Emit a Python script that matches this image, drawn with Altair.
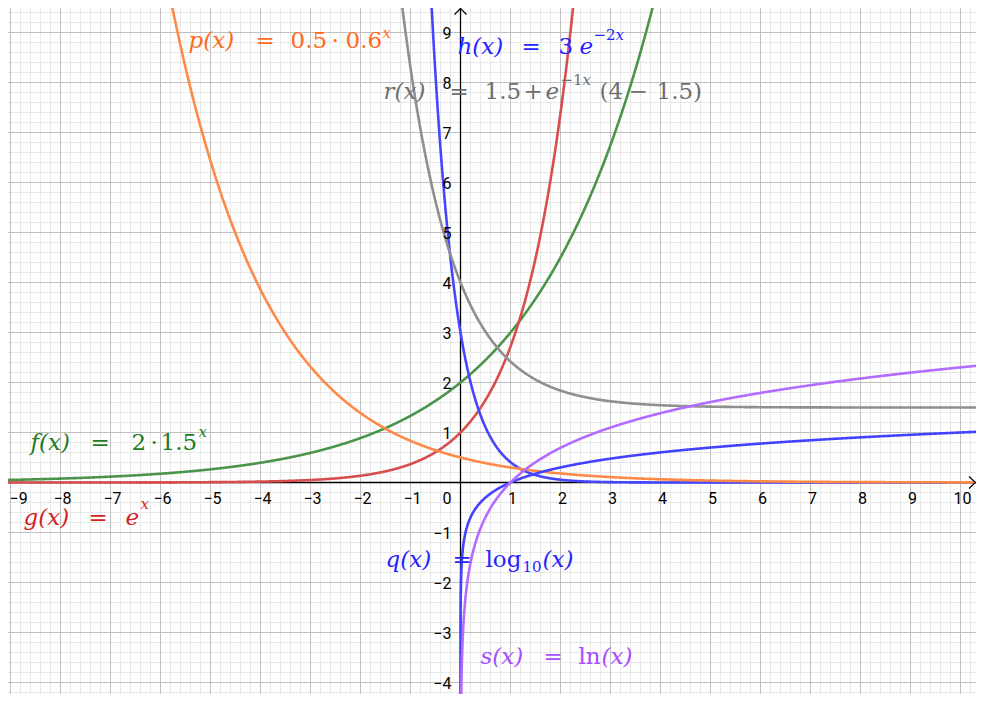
import altair as alt
import numpy as np
import pandas as pd

# ---------------- view window (data units) ----------------
X_MIN, X_MAX = -9.05, 10.31
Y_MIN, Y_MAX = -4.23, 9.49
W, H = 968, 686

# ---------------- functions shown ----------------
NAMES = ["f", "g", "h", "p", "q", "r", "s"]
CURVE_COLORS = ["#4a954a", "#d94d4d", "#4646ff", "#ff8a47", "#4343ff", "#8f8f8f", "#b36cff"]
LABEL_COLORS = {"f": "#1e7b1e", "g": "#d41f1f", "h": "#2424ff", "p": "#ff6a1a",
                "q": "#2424ff", "r": "#6e6e6e", "s": "#a64dff"}

F_COEF, F_BASE = 2.0, 1.5          # f(x) = 2 * 1.5^x
G_BASE = np.e                       # g(x) = e^x
H_COEF, H_RATE = 3.0, -2.0          # h(x) = 3 e^(-2x)
P_COEF, P_BASE = 0.5, 0.6           # p(x) = 0.5 * 0.6^x
R_OFFSET, R_RATE, R_START = 1.5, -1.0, 4.0   # r(x) = 1.5 + e^(-x)(4 - 1.5)
Q_BASE, S_BASE = 10.0, np.e         # q = log10, s = ln

# ---------------- axis tick labels ----------------
X_TICKS = [-9, -8, -7, -6, -5, -4, -3, -2, -1, 1, 2, 3, 4, 5, 6, 7, 8, 9, 10]
Y_TICKS = [-4, -3, -2, -1, 1, 2, 3, 4, 5, 6, 7, 8, 9]

# ---------------- label pieces: (function, text, x, y, size, italic) ----------------
M, S = 23, 15
LABELS = [
    ("p", "p(x)", -5.44, 8.70, M, True), ("p", "=", -4.10, 8.70, M, False),
    ("p", "0.5", -3.40, 8.70, M, False), ("p", "·", -2.58, 8.70, M, False),
    ("p", "0.6", -2.30, 8.70, M, False), ("p", "x", -1.56, 8.90, S, True),

    ("h", "h(x)", -0.06, 8.58, M, True), ("h", "=", 1.22, 8.58, M, False),
    ("h", "3", 1.96, 8.58, M, False), ("h", "e", 2.38, 8.58, M, True),
    ("h", "−2", 2.66, 8.86, S, False), ("h", "x", 3.10, 8.86, S, True),

    ("r", "r(x)", -1.54, 7.68, M, True), ("r", "=", -0.22, 7.68, M, False),
    ("r", "1.5", 0.48, 7.68, M, False), ("r", "+", 1.26, 7.68, M, False),
    ("r", "e", 1.70, 7.68, M, True), ("r", "−1", 2.00, 7.96, S, False),
    ("r", "x", 2.44, 7.96, S, True), ("r", "(4", 2.78, 7.68, M, False),
    ("r", "−", 3.36, 7.68, M, False), ("r", "1.5)", 3.92, 7.68, M, False),

    ("f", "f(x)", -8.60, 0.66, M, True), ("f", "=", -7.40, 0.66, M, False),
    ("f", "2", -6.58, 0.66, M, False), ("f", "·", -6.20, 0.66, M, False),
    ("f", "1.5", -6.00, 0.66, M, False), ("f", "x", -5.24, 0.92, S, True),

    ("g", "g(x)", -8.74, -0.84, M, True), ("g", "=", -7.44, -0.84, M, False),
    ("g", "e", -6.70, -0.84, M, True), ("g", "x", -6.40, -0.52, S, True),

    ("q", "q(x)", -1.50, -1.68, M, True), ("q", "=", -0.16, -1.68, M, False),
    ("q", "log", 0.50, -1.68, M, False), ("q", "10", 1.24, -1.78, S, False),
    ("q", "(x)", 1.64, -1.68, M, True),

    ("s", "s(x)", 0.40, -3.62, M, True), ("s", "=", 1.66, -3.62, M, False),
    ("s", "ln", 2.36, -3.62, M, False), ("s", "(x)", 2.82, -3.62, M, True),
]

# ---------------- curve samples ----------------
xs = np.linspace(X_MIN - 0.3, X_MAX + 0.3, 2600)
xpos = np.concatenate([np.geomspace(1e-7, 0.5, 500), np.linspace(0.5, X_MAX + 0.3, 1200)[1:]])
curves = {
    "f": (xs, F_COEF * F_BASE ** xs),
    "g": (xs, G_BASE ** xs),
    "h": (xs, H_COEF * np.exp(H_RATE * xs)),
    "p": (xs, P_COEF * P_BASE ** xs),
    "q": (xpos, np.log(xpos) / np.log(Q_BASE)),
    "r": (xs, R_OFFSET + np.exp(R_RATE * xs) * (R_START - R_OFFSET)),
    "s": (xpos, np.log(xpos) / np.log(S_BASE)),
}
frames = []
for n in NAMES:
    cx, cy = curves[n]
    d = pd.DataFrame({"name": n, "x": cx, "y": cy, "i": np.arange(len(cx))})
    frames.append(d[(d.y > -40) & (d.y < 40)])
curve_df = pd.concat(frames, ignore_index=True)

xscale = alt.Scale(domain=[X_MIN, X_MAX], nice=False, zero=False)
yscale = alt.Scale(domain=[Y_MIN, Y_MAX], nice=False, zero=False)
X = lambda f: alt.X(f, type="quantitative", scale=xscale, axis=None)
Y = lambda f: alt.Y(f, type="quantitative", scale=yscale, axis=None)

# ---------------- grid ----------------
minor_x = [round(v, 1) for v in np.arange(-9.2, 10.6, 0.2) if abs(v - round(v)) > 1e-6]
minor_y = [round(v, 1) for v in np.arange(-4.4, 9.8, 0.2) if abs(v - round(v)) > 1e-6]
major_x = list(range(-9, 11))
major_y = list(range(-4, 10))

minor_v = alt.Chart(pd.DataFrame({"v": minor_x})).mark_rule(color="#e8e8e8", strokeWidth=1).encode(x=X("v"))
minor_h = alt.Chart(pd.DataFrame({"v": minor_y})).mark_rule(color="#e8e8e8", strokeWidth=1).encode(y=Y("v"))
major_v = alt.Chart(pd.DataFrame({"v": major_x})).mark_rule(color="#c0c0c0", strokeWidth=1).encode(x=X("v"))
major_h = alt.Chart(pd.DataFrame({"v": major_y})).mark_rule(color="#c0c0c0", strokeWidth=1).encode(y=Y("v"))

axis_v = alt.Chart(pd.DataFrame({"v": [0]})).mark_rule(color="#000000", strokeWidth=1.3).encode(x=X("v"))
axis_h = alt.Chart(pd.DataFrame({"v": [0]})).mark_rule(color="#000000", strokeWidth=1.3).encode(y=Y("v"))

# arrow heads at ends of axes
arrow_df = pd.DataFrame({
    "g": ["t", "t", "t", "r", "r", "r"],
    "x": [-0.12, 0.0, 0.12, X_MAX - 0.14, X_MAX - 0.01, X_MAX - 0.14],
    "y": [Y_MAX - 0.13, Y_MAX - 0.01, Y_MAX - 0.13, 0.12, 0.0, -0.12],
    "k": [0, 1, 2, 0, 1, 2],
})
arrows = alt.Chart(arrow_df).mark_line(color="#000000", strokeWidth=1.2).encode(
    x=X("x"), y=Y("y"), detail="g:N", order="k:Q")

# ---------------- curves ----------------
lines = alt.Chart(curve_df).mark_line(clip=True, strokeWidth=2.6).encode(
    x=X("x"), y=Y("y"),
    color=alt.Color("name:N", scale=alt.Scale(domain=NAMES, range=CURVE_COLORS), legend=None),
    order="i:Q",
)

# ---------------- tick labels ----------------
def fmt(v):
    return ("−" + str(-v)) if v < 0 else str(v)

xt = pd.DataFrame({"v": X_TICKS, "t": [fmt(v) for v in X_TICKS], "z": 0})
yt = pd.DataFrame({"v": Y_TICKS, "t": [fmt(v) for v in Y_TICKS], "z": 0})
first = xt.v == xt.v.min()
x_labels = alt.Chart(xt[~first]).mark_text(font="Roboto", fontSize=16, color="#000000", align="center",
                                           baseline="alphabetic", dy=21, dx=2).encode(x=X("v"), y=Y("z"), text="t:N")
x_label_edge = alt.Chart(xt[first]).mark_text(font="Roboto", fontSize=16, color="#000000", align="left",
                                              baseline="alphabetic", dy=21, dx=-1).encode(x=X("v"), y=Y("z"), text="t:N")
y_labels = alt.Chart(yt).mark_text(font="Roboto", fontSize=16, color="#000000", align="right",
                                   baseline="middle", dx=-9, dy=1).encode(x=X("z"), y=Y("v"), text="t:N")
zero_label = alt.Chart(pd.DataFrame({"z": [0], "t": ["0"]})).mark_text(
    font="Roboto", fontSize=16, color="#000000", align="right", baseline="alphabetic", dx=-9, dy=21
).encode(x=X("z"), y=Y("z"), text="t:N")

# ---------------- function labels ----------------
lab_df = pd.DataFrame(LABELS, columns=["fn", "text", "x", "y", "size", "italic"])
lab_df["color"] = lab_df["fn"].map(LABEL_COLORS)

def label_layer(italic):
    return alt.Chart(lab_df[lab_df.italic == italic]).mark_text(
        font="DejaVu Serif", fontStyle="italic" if italic else "normal",
        align="left", baseline="alphabetic"
    ).encode(x=X("x"), y=Y("y"), text="text:N",
             color=alt.Color("color:N", scale=None),
             size=alt.Size("size:Q", scale=None))

chart = alt.layer(
    minor_v, minor_h, major_v, major_h, axis_v, axis_h,
    lines, x_labels, x_label_edge, y_labels, zero_label,
    label_layer(True), label_layer(False), arrows,
).properties(width=W, height=H, padding=0, autosize="none").configure_view(strokeWidth=0)

chart.save("out.html", embed_options={"renderer": "svg", "actions": False})
